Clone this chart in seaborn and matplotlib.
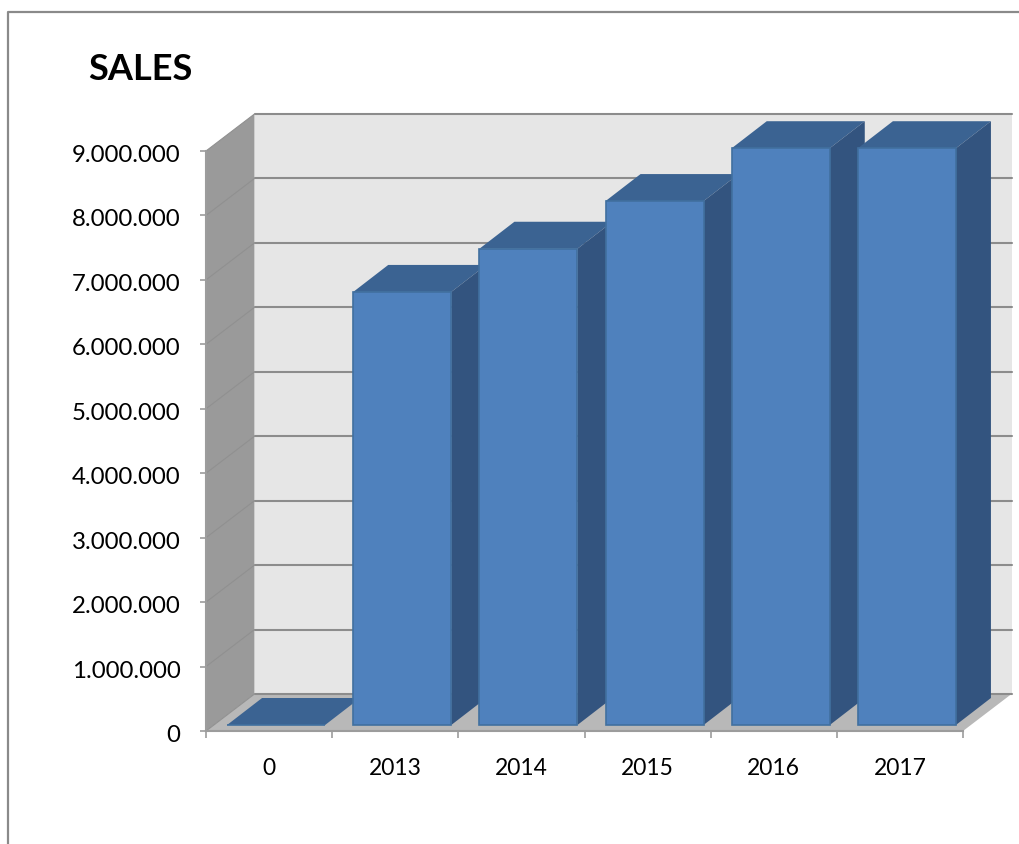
import matplotlib
matplotlib.use("Agg")
import matplotlib.pyplot as plt
from matplotlib.lines import Line2D
from matplotlib.patches import Polygon
from matplotlib.transforms import Affine2D
import pandas as pd
import seaborn as sns

# Sales per year
years = ["0", "2013", "2014", "2015", "2016", "2017"]
sales = [0, 6720000, 7390000, 8130000, 8950000, 8950000]
y_ticks = [0, 1000000, 2000000, 3000000, 4000000, 5000000, 6000000, 7000000, 8000000, 9000000]
y_tick_labels = ["0", "1.000.000", "2.000.000", "3.000.000", "4.000.000", "5.000.000",
                 "6.000.000", "7.000.000", "8.000.000", "9.000.000"]
chart_title = "SALES"

# Page size and pseudo-3D geometry, in pixels
W, H = 1019, 845
AX_LEFT, AX_RIGHT, AX_TOP, AX_BOTTOM = 206, 963, 152, 732
WALL_DX, WALL_DY = 48.5, 37
BAR_SHIFT_X, BAR_SHIFT_Y = 7, 6
BAR_DX, BAR_DY = 35, 27
BAR_WIDTH = 0.777

FRONT, TOP, SIDE, EDGE = "#4F81BD", "#3B6392", "#33547F", "#41709F"
WALL, LEFT_WALL, FLOOR, GRID = "#E6E6E6", "#9A9A9A", "#B8B8B8", "#8C8C8C"
AXIS = "#9C9C9C"

sns.set_theme(style="white")
plt.rcParams["font.family"] = ["Lato", "DejaVu Sans"]

fig = plt.figure(figsize=(W / 100, H / 100), dpi=100, facecolor="white")
ax = fig.add_axes([AX_LEFT / W, 1 - AX_BOTTOM / H,
                   (AX_RIGHT - AX_LEFT) / W, (AX_BOTTOM - AX_TOP) / H])
ax.set_facecolor("none")

df = pd.DataFrame({"year": years, "sales": sales})
sns.barplot(data=df, x="year", y="sales", order=years, color=FRONT, saturation=1,
            width=BAR_WIDTH, ax=ax, edgecolor=EDGE, linewidth=1.2)
ax.set_xlim(-0.5, len(years) - 0.5)
ax.set_ylim(0, y_ticks[-1])
ax.set_xlabel("")
ax.set_ylabel("")


def px(x, y, dx=0.0, dy=0.0):
    """Data point moved by a pixel offset, in display coordinates (dy points up)."""
    u, v = ax.transData.transform((x, y))
    return (u + dx, v + dy)


def face(points, color, z, edge="none", lw=0):
    ax.add_patch(Polygon(points, closed=True, transform=None, facecolor=color,
                         edgecolor=edge, linewidth=lw, zorder=z, clip_on=False))


x0, x1 = ax.get_xlim()
ymax = y_ticks[-1]

# Back wall, side wall and floor
face([px(x0, 0, WALL_DX, WALL_DY), px(x1, 0, WALL_DX, WALL_DY),
      px(x1, ymax, WALL_DX, WALL_DY), px(x0, ymax, WALL_DX, WALL_DY)], WALL, 0.1)
face([px(x0, 0), px(x0, 0, WALL_DX, WALL_DY),
      px(x0, ymax, WALL_DX, WALL_DY), px(x0, ymax)], LEFT_WALL, 0.2)
face([px(x0, 0), px(x1, 0), px(x1, 0, WALL_DX, WALL_DY), px(x0, 0, WALL_DX, WALL_DY)], FLOOR, 0.3)

# Gridlines run across the back wall and fold down the side wall
for value in y_ticks:
    ax.add_line(Line2D(*zip(px(x0, value, WALL_DX, WALL_DY), px(x1, value, WALL_DX, WALL_DY)),
                       transform=None, color=GRID, lw=1.5, zorder=0.4, clip_on=False))
    ax.add_line(Line2D(*zip(px(x0, value), px(x0, value, WALL_DX, WALL_DY)),
                       transform=None, color="#909090", lw=0.8, zorder=0.4, clip_on=False))

# Extrude each bar; later bars sit in front of earlier ones
shift = ax.transData + Affine2D().translate(BAR_SHIFT_X, BAR_SHIFT_Y)
for i, (bar, value) in enumerate(zip(ax.patches[:len(years)], sales)):
    z = 2 + i
    left, right = bar.get_x(), bar.get_x() + bar.get_width()
    sx, sy = BAR_SHIFT_X, BAR_SHIFT_Y
    face([px(left, value, sx, sy), px(right, value, sx, sy),
          px(right, value, sx + BAR_DX, sy + BAR_DY), px(left, value, sx + BAR_DX, sy + BAR_DY)],
         TOP, z)
    face([px(right, 0, sx, sy), px(right, 0, sx + BAR_DX, sy + BAR_DY),
          px(right, value, sx + BAR_DX, sy + BAR_DY), px(right, value, sx, sy)], SIDE, z)
    bar.set_transform(shift)
    bar.set_clip_on(False)
    bar.set_zorder(z + 0.5)

# Axes: ticks on the category boundaries, labels at the centres
for name in ("top", "right"):
    ax.spines[name].set_visible(False)
for name in ("left", "bottom"):
    ax.spines[name].set_color(AXIS)
    ax.spines[name].set_linewidth(1.5)
    ax.spines[name].set_zorder(1)

ax.set_yticks(y_ticks, y_tick_labels)
ax.set_xticks(range(len(years)), years)
ax.set_xticks([i - 0.5 for i in range(len(years) + 1)], minor=True)
ax.tick_params(axis="y", which="major", left=True, length=4.5, width=1.2, color=AXIS,
               pad=14, labelsize=17.3, labelcolor="black")
ax.tick_params(axis="x", which="major", bottom=False, length=0, pad=18.5,
               labelsize=16.5, labelcolor="black")
ax.tick_params(axis="x", which="minor", bottom=True, length=5, width=1.2, color=AXIS)
for label in ax.get_yticklabels():
    label.set_transform(label.get_transform() + Affine2D().translate(0, -1.5))

fig.text(88 / W, 1 - 69 / H, chart_title, fontsize=26, fontweight="bold",
         color="black", ha="left", va="center")

# Page frame along the top and left edges
fig.add_artist(Line2D([8 / W, 8 / W, 1], [0, 1 - 13 / H, 1 - 13 / H],
                      transform=fig.transFigure, color="#8A8A8A", lw=1.6))

fig.savefig("out.png", dpi=100, facecolor="white")
